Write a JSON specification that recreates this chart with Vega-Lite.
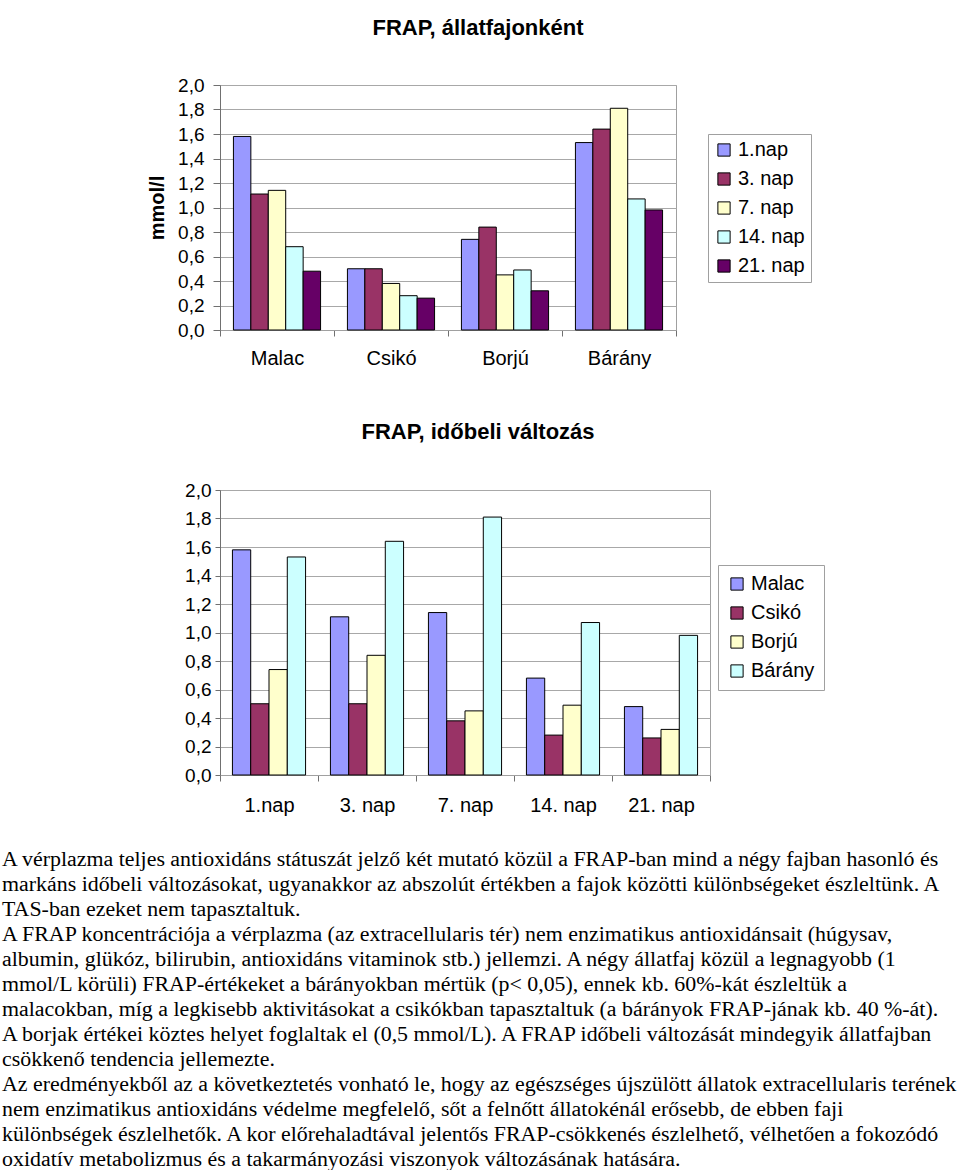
{
  "$schema": "https://vega.github.io/schema/vega-lite/v6.json",
  "background": "white",
  "padding": {"top": 16, "left": 2, "right": 2, "bottom": 0},
  "datasets": {
    "frap": [
      {"faj": "Malac", "nap": "1.nap", "v": 1.58},
      {"faj": "Malac", "nap": "3. nap", "v": 1.11},
      {"faj": "Malac", "nap": "7. nap", "v": 1.14},
      {"faj": "Malac", "nap": "14. nap", "v": 0.68},
      {"faj": "Malac", "nap": "21. nap", "v": 0.48},
      {"faj": "Csikó", "nap": "1.nap", "v": 0.50},
      {"faj": "Csikó", "nap": "3. nap", "v": 0.50},
      {"faj": "Csikó", "nap": "7. nap", "v": 0.38},
      {"faj": "Csikó", "nap": "14. nap", "v": 0.28},
      {"faj": "Csikó", "nap": "21. nap", "v": 0.26},
      {"faj": "Borjú", "nap": "1.nap", "v": 0.74},
      {"faj": "Borjú", "nap": "3. nap", "v": 0.84},
      {"faj": "Borjú", "nap": "7. nap", "v": 0.45},
      {"faj": "Borjú", "nap": "14. nap", "v": 0.49},
      {"faj": "Borjú", "nap": "21. nap", "v": 0.32},
      {"faj": "Bárány", "nap": "1.nap", "v": 1.53},
      {"faj": "Bárány", "nap": "3. nap", "v": 1.64},
      {"faj": "Bárány", "nap": "7. nap", "v": 1.81},
      {"faj": "Bárány", "nap": "14. nap", "v": 1.07},
      {"faj": "Bárány", "nap": "21. nap", "v": 0.98}
    ],
    "lines": [
      {"line": 1, "text": "A vérplazma teljes antioxidáns státuszát jelző két mutató közül a FRAP-ban mind a négy fajban hasonló és"},
      {"line": 2, "text": "markáns időbeli változásokat, ugyanakkor az abszolút értékben a fajok közötti különbségeket észleltünk. A"},
      {"line": 3, "text": "TAS-ban ezeket nem tapasztaltuk."},
      {"line": 4, "text": "A FRAP koncentrációja a vérplazma (az extracellularis tér) nem enzimatikus antioxidánsait (húgysav,"},
      {"line": 5, "text": "albumin, glükóz, bilirubin, antioxidáns vitaminok stb.) jellemzi. A négy állatfaj közül a legnagyobb (1"},
      {"line": 6, "text": "mmol/L körüli) FRAP-értékeket a bárányokban mértük (p< 0,05), ennek kb. 60%-kát észleltük a"},
      {"line": 7, "text": "malacokban, míg a legkisebb aktivitásokat a csikókban tapasztaltuk (a bárányok FRAP-jának kb. 40 %-át)."},
      {"line": 8, "text": "A borjak értékei köztes helyet foglaltak el (0,5 mmol/L). A FRAP időbeli változását mindegyik állatfajban"},
      {"line": 9, "text": "csökkenő tendencia jellemezte."},
      {"line": 10, "text": "Az eredményekből az a következtetés vonható le, hogy az egészséges újszülött állatok extracellularis terének"},
      {"line": 11, "text": "nem enzimatikus antioxidáns védelme megfelelő, sőt a felnőtt állatokénál erősebb, de ebben faji"},
      {"line": 12, "text": "különbségek észlelhetők. A kor előrehaladtával jelentős FRAP-csökkenés észlelhető, vélhetően a fokozódó"},
      {"line": 13, "text": "oxidatív metabolizmus és a takarmányozási viszonyok változásának hatására."}
    ]
  },
  "config": {
    "font": "Liberation Sans",
    "view": {"stroke": "#a0a0a0", "strokeWidth": 1},
    "axis": {
      "labelFont": "Liberation Sans",
      "labelColor": "black",
      "domainColor": "#707070",
      "tickColor": "#707070",
      "gridColor": "#a8a8a8",
      "titleColor": "black"
    },
    "legend": {
      "labelFont": "Liberation Sans",
      "labelColor": "black"
    },
    "title": {"font": "Liberation Sans", "color": "black", "fontWeight": "bold"}
  },
  "spacing": 30,
  "vconcat": [
    {
      "spacing": 51,
      "resolve": {
        "scale": {"color": "independent", "xOffset": "independent", "x": "independent", "y": "independent"},
        "legend": {"color": "independent"},
        "axis": {"x": "independent", "y": "independent"}
      },
      "vconcat": [
        {
          "width": 456,
          "height": 245,
          "data": {"name": "frap"},
          "title": {"text": "FRAP, állatfajonként", "fontSize": 22, "offset": 36, "anchor": "middle", "frame": "group", "dx": 30},
          "mark": {"type": "bar", "stroke": "black", "strokeWidth": 1},
          "encoding": {
            "x": {
              "field": "faj", "type": "nominal",
              "sort": ["Malac", "Csikó", "Borjú", "Bárány"],
              "scale": {"paddingInner": 0, "paddingOuter": 0},
              "axis": {"title": null, "labelAngle": 0, "labelFontSize": 20, "tickBand": "extent", "tickSize": 6, "labelPadding": 12, "domainColor": "#a0a0a0"}
            },
            "xOffset": {
              "field": "nap", "type": "nominal",
              "sort": ["1.nap", "3. nap", "7. nap", "14. nap", "21. nap"],
              "scale": {"paddingInner": 0, "paddingOuter": 0.77}
            },
            "y": {
              "field": "v", "type": "quantitative",
              "scale": {"domain": [0, 2]},
              "axis": {
                "title": "mmol/l", "titleFontSize": 20, "titleFontWeight": "bold", "titlePadding": 10,
                "values": [0, 0.2, 0.4, 0.6, 0.8, 1.0, 1.2, 1.4, 1.6, 1.8, 2.0],
                "labelExpr": "replace(format(datum.value, '.1f'), '.', ',')",
                "labelFontSize": 19, "tickSize": 7, "labelPadding": 9, "grid": true
              }
            },
            "color": {
              "field": "nap", "type": "nominal",
              "sort": ["1.nap", "3. nap", "7. nap", "14. nap", "21. nap"],
              "scale": {"domain": ["1.nap", "3. nap", "7. nap", "14. nap", "21. nap"], "range": ["#9999FF", "#993366", "#FFFFCC", "#CCFFFF", "#660066"]},
              "legend": {
                "title": null, "orient": "none", "legendX": 488, "legendY": 49,
                "strokeColor": "#a0a0a0", "fillColor": "white", "padding": 6,
                "symbolType": "square", "symbolSize": 150, "symbolStrokeColor": "black", "symbolStrokeWidth": 1,
                "labelFontSize": 20, "rowPadding": 9, "labelOffset": 4
              }
            }
          }
        },
        {
          "width": 490,
          "height": 285,
          "data": {"name": "frap"},
          "title": {"text": "FRAP, időbeli változás", "fontSize": 22, "offset": 37, "anchor": "middle", "frame": "group", "dx": 13},
          "mark": {"type": "bar", "stroke": "black", "strokeWidth": 1},
          "encoding": {
            "x": {
              "field": "nap", "type": "nominal",
              "sort": ["1.nap", "3. nap", "7. nap", "14. nap", "21. nap"],
              "scale": {"paddingInner": 0, "paddingOuter": 0},
              "axis": {"title": null, "labelAngle": 0, "labelFontSize": 20, "tickBand": "extent", "tickSize": 6, "labelPadding": 14, "domainColor": "#a0a0a0"}
            },
            "xOffset": {
              "field": "faj", "type": "nominal",
              "sort": ["Malac", "Csikó", "Borjú", "Bárány"],
              "scale": {"paddingInner": 0, "paddingOuter": 0.68}
            },
            "y": {
              "field": "v", "type": "quantitative",
              "scale": {"domain": [0, 2]},
              "axis": {
                "title": null,
                "values": [0, 0.2, 0.4, 0.6, 0.8, 1.0, 1.2, 1.4, 1.6, 1.8, 2.0],
                "labelExpr": "replace(format(datum.value, '.1f'), '.', ',')",
                "labelFontSize": 19, "tickSize": 5, "labelPadding": 4, "grid": true
              }
            },
            "color": {
              "field": "faj", "type": "nominal",
              "sort": ["Malac", "Csikó", "Borjú", "Bárány"],
              "scale": {"domain": ["Malac", "Csikó", "Borjú", "Bárány"], "range": ["#9999FF", "#993366", "#FFFFCC", "#CCFFFF"]},
              "legend": {
                "title": null, "orient": "none", "legendX": 498, "legendY": 75,
                "strokeColor": "#a0a0a0", "fillColor": "white", "padding": 9,
                "symbolType": "square", "symbolSize": 150, "symbolStrokeColor": "black", "symbolStrokeWidth": 1,
                "labelFontSize": 20, "rowPadding": 9, "labelOffset": 4
              }
            }
          }
        }
      ]
    },
    {
      "width": 738,
      "height": 325,
      "view": {"stroke": null},
      "data": {"name": "lines"},
      "mark": {"type": "text", "font": "Liberation Serif", "fontSize": 21.9, "align": "left", "baseline": "middle", "color": "black"},
      "encoding": {
        "x": {"datum": 0, "type": "quantitative", "scale": {"domain": [0, 1], "range": [-218, 738]}, "axis": null},
        "y": {"field": "line", "type": "ordinal", "scale": {"type": "point", "padding": 0.5}, "axis": null},
        "text": {"field": "text"}
      }
    }
  ]
}
